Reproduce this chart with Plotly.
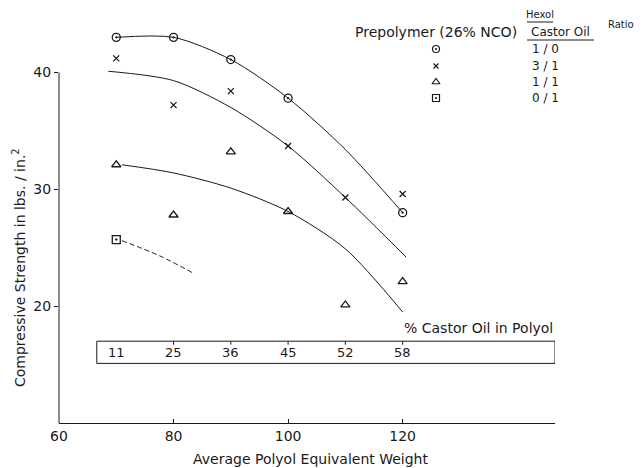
import plotly.graph_objects as go

# ---------------- data ----------------
weights = [70, 80, 90, 100, 110, 120]

# measured points
circ_x = [70, 80, 90, 100, 120]
circ_y = [43.0, 43.0, 41.1, 37.8, 28.0]          # Hexol/Castor Oil 1/0
cross_x = [70, 80, 90, 100, 110, 120]
cross_y = [41.2, 37.2, 38.4, 33.7, 29.3, 29.6]    # 3/1
tri_x = [70, 80, 90, 100, 110, 120]
tri_y = [32.1, 27.8, 33.2, 28.1, 20.1, 22.1]      # 1/1
sq_x = [70]
sq_y = [25.7]                                     # 0/1

# hand-drawn fitted curves
curve10_x = [70, 80, 90, 100, 110, 120]
curve10_y = [43.0, 43.0, 41.1, 37.8, 33.4, 28.0]
curve31_x = [68.6, 80, 90, 100, 110, 120.6]
curve31_y = [40.1, 39.3, 37.0, 33.7, 29.3, 24.2]
curve11_x = [71, 80, 90, 100, 110, 120]
curve11_y = [32.1, 31.4, 30.1, 28.1, 24.9, 19.5]
curve01_x = [71, 77.6, 83.7]
curve01_y = [25.6, 24.3, 22.75]

castor_pct = ["11", "25", "36", "45", "52", "58"]
ratio_labels = ["1 / 0", "3 / 1", "1 / 1", "0 / 1"]

x_ticks = [60, 80, 100, 120]
y_ticks = [20, 30, 40]

# ---------------- layout helpers ----------------
W, H = 643, 468
ML, MR, MT, MB = 59, 88, 14, 45
PW = W - ML - MR
PH = H - MT - MB
XMIN, XMAX = 60, 146.6
YMIN, YMAX = 10, 45

def xp(px):
    return (px - ML) / PW

def yp(py):
    return (H - MB - py) / PH

FONT = "DejaVu Sans"
INK = "#1a1a1a"

fig = go.Figure()

line_style = dict(color=INK, width=1)
for cx, cy in [(curve10_x, curve10_y), (curve31_x, curve31_y), (curve11_x, curve11_y)]:
    fig.add_trace(go.Scatter(x=cx, y=cy, mode="lines", line=dict(shape="spline", smoothing=0.8, **line_style),
                             showlegend=False, hoverinfo="skip"))
fig.add_trace(go.Scatter(x=curve01_x, y=curve01_y, mode="lines",
                         line=dict(shape="spline", color=INK, width=1, dash="5px,3px"),
                         showlegend=False, hoverinfo="skip"))

mk = [
    (circ_x, circ_y, "circle-open-dot", 8),
    (cross_x, cross_y, "x-thin-open", 6),
    (tri_x, tri_y, "triangle-up-open", 8),
    (sq_x, sq_y, "square-open-dot", 8),
]
for (mx, my, sym, sz) in mk:
    fig.add_trace(go.Scatter(x=mx, y=my, mode="markers",
                             marker=dict(symbol=sym, size=sz, color=INK, line=dict(color=INK, width=1.3)),
                             showlegend=False, cliponaxis=False))

# legend key on hidden overlay axis (paper-like coords)
key_rows_px = [49, 66, 82, 98]
key_x_px = 436
for (mx, my, sym, sz), ry in zip(mk, key_rows_px):
    fig.add_trace(go.Scatter(x=[xp(key_x_px)], y=[yp(ry)], mode="markers", xaxis="x2", yaxis="y2",
                             marker=dict(symbol=sym, size=sz - 1, color=INK, line=dict(color=INK, width=1.2)),
                             showlegend=False, cliponaxis=False, hoverinfo="skip"))

annotations = []
for lab, ry in zip(ratio_labels, key_rows_px):
    annotations.append(dict(x=xp(545), y=yp(ry), xref="paper", yref="paper", text=lab, showarrow=False,
                            font=dict(family=FONT, size=12, color=INK), xanchor="center", yanchor="middle"))

annotations += [
    dict(x=xp(436), y=yp(32), xref="paper", yref="paper", text="Prepolymer (26% NCO)", showarrow=False,
         font=dict(family=FONT, size=14, color=INK), xanchor="center", yanchor="middle"),
    dict(x=xp(540), y=yp(15), xref="paper", yref="paper", text="Hexol", showarrow=False,
         font=dict(family=FONT, size=10, color=INK), xanchor="center", yanchor="middle"),
    dict(x=xp(560), y=yp(32), xref="paper", yref="paper", text="Castor Oil", showarrow=False,
         font=dict(family=FONT, size=12, color=INK), xanchor="center", yanchor="middle"),
    dict(x=xp(621), y=yp(24), xref="paper", yref="paper", text="Ratio", showarrow=False,
         font=dict(family=FONT, size=10, color=INK), xanchor="center", yanchor="middle"),
    dict(x=1, y=18.1, xref="paper", yref="y", text="% Castor Oil in Polyol", showarrow=False,
         font=dict(family=FONT, size=14, color=INK), xanchor="right", yanchor="middle"),
    dict(x=xp(19), y=yp(268), xref="paper", yref="paper", text="Compressive Strength in lbs. / in.<sup>2</sup>",
         showarrow=False, textangle=-90, font=dict(family=FONT, size=14, color=INK),
         xanchor="center", yanchor="middle"),
    dict(x=xp(310), y=yp(459), xref="paper", yref="paper", text="Average Polyol Equivalent Weight",
         showarrow=False, font=dict(family=FONT, size=14, color=INK), xanchor="center", yanchor="middle"),
]
for w, lab in zip(weights, castor_pct):
    annotations.append(dict(x=w, y=16.05, xref="x", yref="y", text=lab, showarrow=False,
                            font=dict(family=FONT, size=13, color=INK), xanchor="center", yanchor="middle"))

shapes = [
    # y-axis line (only 10..40)
    dict(type="line", xref="x domain", yref="y", x0=0, x1=0, y0=YMIN, y1=40, line=dict(color=INK, width=1)),
    # castor-oil table box
    dict(type="rect", xref="x", yref="y", x0=66.6, x1=XMAX, y0=15.1, y1=17.0, line=dict(color=INK, width=1)),
    # underlines in legend header
    dict(type="line", xref="paper", yref="paper", x0=xp(527), x1=xp(553), y0=yp(22), y1=yp(22),
         line=dict(color=INK, width=1)),
    dict(type="line", xref="paper", yref="paper", x0=xp(527), x1=xp(594), y0=yp(40), y1=yp(40),
         line=dict(color=INK, width=1)),
]
for w in weights[1:]:
    shapes.append(dict(type="line", xref="x", yref="y", x0=w, x1=w, y0=17.0, y1=16.7,
                       line=dict(color=INK, width=1)))

fig.update_layout(
    width=W, height=H,
    margin=dict(l=ML, r=MR, t=MT, b=MB),
    paper_bgcolor="white", plot_bgcolor="white",
    showlegend=False,
    font=dict(family=FONT, size=14, color=INK),
    xaxis=dict(range=[XMIN, XMAX], tickvals=x_ticks, showgrid=False, zeroline=False,
               showline=True, linecolor=INK, linewidth=1, ticks="inside", ticklen=4, tickcolor=INK,
               tickfont=dict(family=FONT, size=14, color=INK)),
    yaxis=dict(range=[YMIN, YMAX], tickvals=y_ticks, showgrid=False, zeroline=False,
               showline=False, ticks="outside", ticklen=4, tickcolor=INK,
               tickfont=dict(family=FONT, size=14, color=INK)),
    xaxis2=dict(overlaying="x", range=[0, 1], visible=False),
    yaxis2=dict(overlaying="y", range=[0, 1], visible=False),
    annotations=annotations,
    shapes=shapes,
)

fig.write_html("out.html")
